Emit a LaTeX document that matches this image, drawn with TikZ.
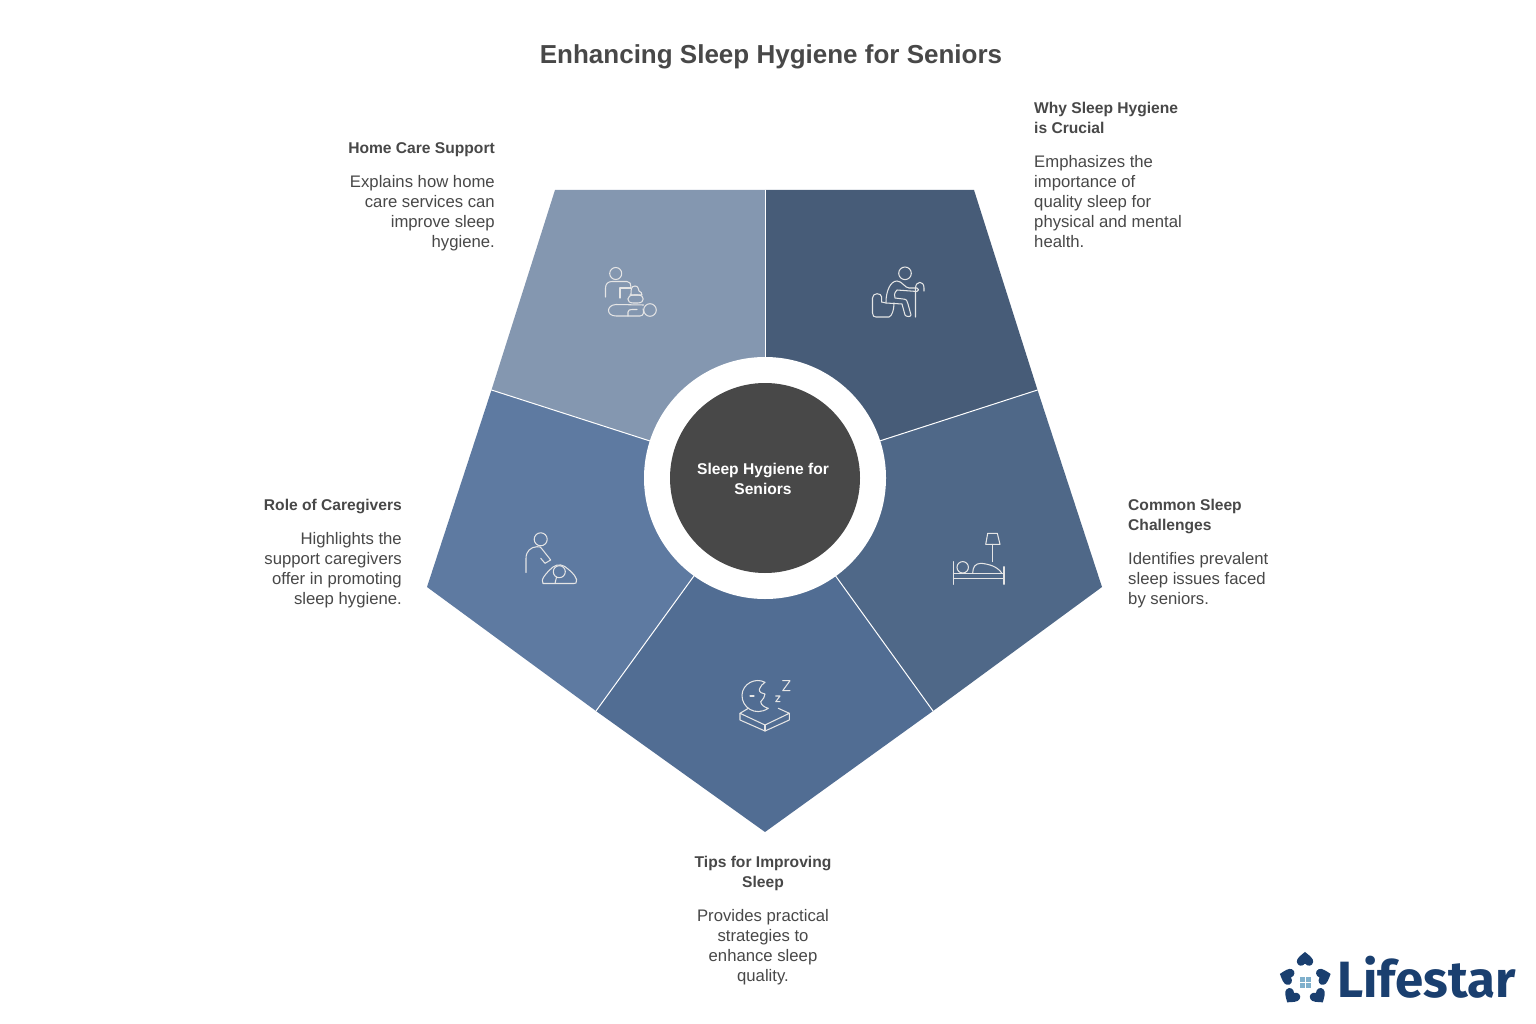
\documentclass[tikz,border=0pt]{standalone}
\usepackage{fontspec}
\setmainfont{Liberation Sans}
\newfontfamily\logofont{Fira Sans}
\usetikzlibrary{positioning}
\definecolor{ink}{HTML}{484848}
\definecolor{navy}{HTML}{1A3F6F}
\definecolor{pane}{HTML}{7FB0CC}
\tikzset{petal/.pic={\fill[navy,scale=.86] (0,-10.5) .. controls (5,-6.5) and (10,-3) .. (9.5,1) .. controls (9,6) and (3,7) .. (0,3) .. controls (-3,7) and (-9,6) .. (-9.5,1) .. controls (-10,-3) and (-5,-6.5) .. (0,-10.5) -- cycle;}}

\begin{document}
\begin{tikzpicture}[x=1pt,y=-1pt,line join=round,line cap=round]
  \tikzstyle{head}=[inner sep=0pt,text=ink,font=\fontsize{15.6}{20}\selectfont\bfseries]
  \tikzstyle{body}=[inner sep=0pt,text=ink,font=\fontsize{16.7}{20}\selectfont]
  \tikzstyle{divider}=[draw=white,line width=1pt]
  \tikzstyle{icon}=[draw=white!90!black,line width=1.05pt]

  \path[fill=white,use as bounding box] (0,0) rectangle (1536,1024);

  \coordinate (c)    at (765,478);
  \coordinate (top)  at (765,190);
  \coordinate (tl)   at (555,190);
  \coordinate (tr)   at (974,190);
  \coordinate (ur)   at (1037.5,390);
  \coordinate (ul)   at (491.5,390);
  \coordinate (er)   at (1102,587);
  \coordinate (el)   at (427,587);
  \coordinate (lr)   at (933,711);
  \coordinate (ll)   at (596,711);
  \coordinate (tip)  at (765,832);

  \fill[color={rgb,255:red,132;green,151;blue,176}] (c) -- (top) -- (tl) -- (ul) -- cycle;
  \fill[color={rgb,255:red,71;green,92;blue,120}] (c) -- (top) -- (tr) -- (ur) -- cycle;
  \fill[color={rgb,255:red,79;green,104;blue,136}] (c) -- (ur) -- (er) -- (lr) -- cycle;
  \fill[color={rgb,255:red,81;green,109;blue,147}] (c) -- (lr) -- (tip) -- (ll) -- cycle;
  \fill[color={rgb,255:red,94;green,122;blue,161}] (c) -- (ll) -- (el) -- (ul) -- cycle;

  \draw[divider] (c) -- (top);
  \draw[divider] (c) -- (ur);
  \draw[divider] (c) -- (lr);
  \draw[divider] (c) -- (ll);
  \draw[divider] (c) -- (ul);

  \node[circle,fill=white,minimum size=242pt,inner sep=0pt] (ring) at (c) {};
  \node[circle,fill=ink,minimum size=190pt,inner sep=0pt] (hub) at (c) {};
  \node[head,text=white,align=center] (hubtext) at (763,480) {\strut Sleep Hygiene for\\\strut Seniors};

  \node[inner sep=0pt,text=ink,font=\fontsize{26}{32}\selectfont\bfseries] (title) at (771,56.5) {Enhancing Sleep Hygiene for Seniors};

  \node[head,align=right,anchor=north east] (carehead) at (495,139.5) {\strut Home Care Support};
  \node[body,align=right,below=13pt of carehead.south east,anchor=north east] (carebody)
    {\strut Explains how home\\\strut care services can\\\strut improve sleep\\\strut hygiene.};

  \node[head,align=left,anchor=north west] (whyhead) at (1034,99.5) {\strut Why Sleep Hygiene\\\strut is Crucial};
  \node[body,align=left,below=13pt of whyhead.south west,anchor=north west] (whybody)
    {\strut Emphasizes the\\\strut importance of\\\strut quality sleep for\\\strut physical and mental\\\strut health.};

  \node[head,align=left,anchor=north west] (commonhead) at (1128,496.5) {\strut Common Sleep\\\strut Challenges};
  \node[body,align=left,below=13pt of commonhead.south west,anchor=north west] (commonbody)
    {\strut Identifies prevalent\\\strut sleep issues faced\\\strut by seniors.};

  \node[head,align=right,anchor=north east] (rolehead) at (402,496.5) {\strut Role of Caregivers};
  \node[body,align=right,below=13pt of rolehead.south east,anchor=north east] (rolebody)
    {\strut Highlights the\\\strut support caregivers\\\strut offer in promoting\\\strut sleep hygiene.};

  \node[head,align=center,anchor=north] (tipshead) at (763,853.5) {\strut Tips for Improving\\\strut Sleep};
  \node[body,align=center,below=13pt of tipshead.south] (tipsbody)
    {\strut Provides practical\\\strut strategies to\\\strut enhance sleep\\\strut quality.};

  \draw[icon] (615.7,273.5) circle (6);
  \draw[icon] (605.5,297) -- (605.5,288) .. controls (605.5,284) and (608,281.5) .. (612,281.5) -- (627,281.5) .. controls (630,281.5) and (631,284) .. (631,287);
  \draw[icon] (620,298) -- (620,288) -- (631,288);
  \draw[icon] (631,294) .. controls (631,290) and (631,286) .. (635,286) .. controls (639,286) and (638,290) .. (639,291) .. controls (641,292) and (642,293) .. (642,295) -- (630,295);
  \draw[icon] (634,295) -- (638,295) .. controls (645,295) and (645,303) .. (638,303) -- (633,303) .. controls (626,303) and (626,295) .. (634,295);
  \draw[icon] (650,310) circle (6.3);
  \draw[icon] (643.5,305) -- (616,304.5) .. controls (606,305) and (606,316) .. (616,316) -- (640,316) .. controls (644,316) and (644,311) .. (643,309);
  \draw[icon] (628,316) -- (628,312) .. controls (628,310) and (630,309.5) .. (632,309.5) -- (637,309.5);

  \draw[icon] (905,273.3) circle (6.3);
  \draw[icon] (915.5,317) -- (915.5,288) .. controls (915.5,281) and (924,280) .. (924,288) -- (924,291);
  \draw[icon] (886,302) .. controls (886,292) and (890,281) .. (897,281) .. controls (902,281) and (905,288) .. (909,288) -- (917,288) .. controls (919,288) and (919,291.5) .. (917,291.5) -- (897,290) .. controls (894,293) and (894,296) .. (895,298) -- (903,299) .. controls (907,299) and (907,301) .. (908,304) -- (911,315) .. controls (911,317) and (906,317) .. (905,315) -- (902,304) -- (886,303);
  \draw[icon] (881.7,302) -- (881.7,297) .. controls (881.7,293) and (872.5,292) .. (872.5,298) -- (872.5,313) .. controls (872.5,316) and (874,317) .. (876,317) -- (889,317) .. controls (892,316) and (894,310) .. (894,303);
  \draw[icon] (881.7,302) -- (886,303);

  \draw[icon] (987.7,533.3) -- (997.3,533.3) -- (1000,544.3) -- (985.7,544.3) -- cycle;
  \draw[icon] (992.7,544.3) -- (992.7,561.7);
  \draw[icon] (953.3,561.7) -- (953.3,584.3);
  \draw[icon] (1004,566.7) -- (1004,584.3);
  \draw[icon] (953.3,573.3) -- (1004,573.3);
  \draw[icon] (953.3,578.3) -- (1004,578.3);
  \draw[icon] (962.7,567.3) circle (5.7);
  \draw[icon] (972.7,572.7) .. controls (973,567) and (975,563.5) .. (981,563.3) .. controls (988,564) and (997,566) .. (1001.7,573);

  \draw[icon] (765,682.3) .. controls (755,677) and (742.5,684) .. (742,695) .. controls (741.5,707) and (755,717) .. (768.3,708.3) .. controls (764,707) and (761,705) .. (760.7,701.7) .. controls (763,699) and (765,697) .. (765,694) .. controls (762,694) and (759,692) .. (759.3,689.3) .. controls (760,686) and (763,684) .. (765,682.3) -- cycle;
  \draw[icon] (750,696) -- (754,696);
  \draw[icon] (775.7,696) -- (780,696) -- (775.7,701.7) -- (780,701.7);
  \draw[icon] (782.7,680.7) -- (790,680.7) -- (782.7,690.7) -- (790,690.7);
  \draw[icon] (748.3,708.3) -- (740,713.3) -- (765,725) -- (789.3,713.3) -- (778.3,708.3);
  \draw[icon] (740,713.3) -- (740,720) -- (765,731) -- (789.3,720) -- (789.3,713.3);
  \draw[icon] (765,725) -- (765,731);

  \draw[icon] (540.7,539.3) circle (6.5);
  \draw[icon] (526,572.7) -- (526,558.3) .. controls (526,551) and (531,547) .. (537,546.7) .. controls (540,546.5) and (541,547) .. (542,549) -- (550.7,560) -- (545,563.3) -- (540.7,558.3);
  \draw[icon] (543,583.5) .. controls (540,580) and (546,573) .. (553,567) .. controls (558,563) and (564,565) .. (568,569) .. controls (572,572) and (579,579) .. (576,583) -- (574,583.5) -- cycle;
  \draw[icon] (559.3,571.7) circle (6);
  \draw[icon] (556.5,577) -- (555,583.5);

  \pic at (1305,961) {petal};
  \pic[rotate=-72] at (1322,976.7) {petal};
  \pic[rotate=-144] at (1317.5,995) {petal};
  \pic[rotate=144] at (1292.5,995) {petal};
  \pic[rotate=72] at (1288.5,976.7) {petal};
  \fill[pane] (1300,977) rectangle (1304.7,982);
  \fill[pane] (1306,977) rectangle (1310.7,982);
  \fill[pane] (1300,983.3) rectangle (1304.7,988.3);
  \fill[pane] (1306,983.3) rectangle (1310.7,988.3);
  \node[inner sep=0pt,anchor=base west,text=navy,font=\logofont\fontsize{51}{60}\selectfont\bfseries] (logo) at (1337,997.5) {Lifestar};
\end{tikzpicture}
\end{document}
